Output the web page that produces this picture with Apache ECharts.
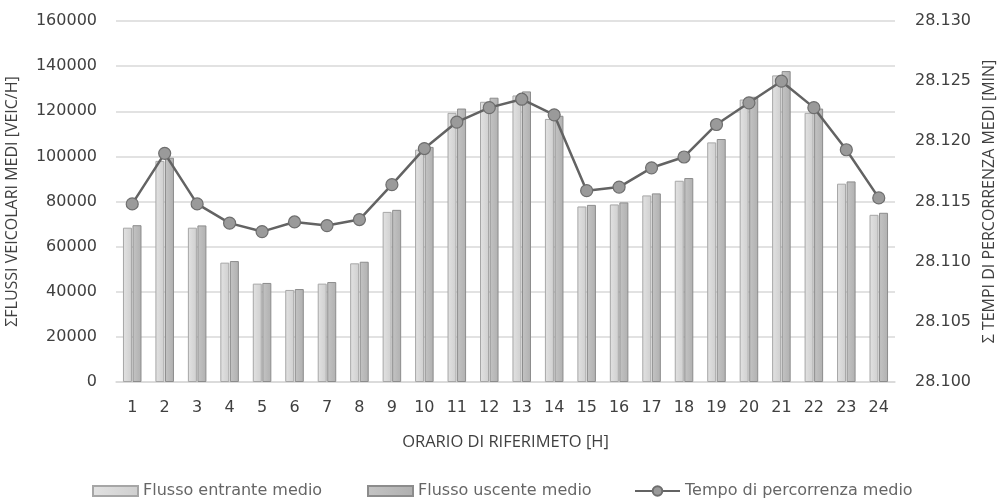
<!DOCTYPE html>
<html>
<head>
<meta charset="utf-8">
<script src="https://cdn.jsdelivr.net/npm/echarts@6/dist/echarts.min.js"></script>
<style>
  html, body { margin: 0; padding: 0; background: #fff; }
  #chart { width: 1000px; height: 500px; }
</style>
</head>
<body>
<div id="chart"></div>
<script>
// Hours of the day (reference time)
const hours = ['1','2','3','4','5','6','7','8','9','10','11','12','13','14','15','16','17','18','19','20','21','22','23','24'];

// Mean incoming flow [veic/h]
const flussoEntrante = [68400, 98000, 68400, 52900, 43600, 40800, 43600, 52600, 75400, 103000, 119300, 124200,
                        127000, 116600, 77800, 78700, 82700, 89200, 106200, 125200, 135900, 119300, 87900, 74100];

// Mean outgoing flow [veic/h]
const flussoUscente = [69500, 99400, 69400, 53600, 43900, 41200, 44300, 53300, 76300, 104200, 121200, 126000,
                       128800, 118000, 78500, 79600, 83600, 90400, 107700, 126400, 137800, 121200, 88900, 75000];

// Mean travel time [min]
const tempoPercorrenza = [28.1148, 28.1190, 28.1148, 28.1132, 28.1125, 28.1133, 28.1130, 28.1135, 28.1164, 28.1194,
                          28.1216, 28.1228, 28.1235, 28.1222, 28.1159, 28.1162, 28.1178, 28.1187, 28.1214, 28.1232,
                          28.1250, 28.1228, 28.1193, 28.1153];

// Axis ticks
const leftTicks = { min: 0, max: 160000, interval: 20000 };
const rightTicks = { min: 28.100, max: 28.130, interval: 0.005 };

const TICK_FONT = '"DejaVu Sans", sans-serif';
const TITLE_FONT = '"Open Sans", "Noto Sans", sans-serif';
const LEGEND_FONT = '"DejaVu Sans", sans-serif';
const TXT = '#404040';

const chart = echarts.init(document.getElementById('chart'), null, { renderer: 'canvas' });

const legendText = { fontFamily: LEGEND_FONT, fontSize: 16, color: '#666666' };

chart.setOption({
  animation: false,
  backgroundColor: '#ffffff',
  grid: { left: 116, right: 105, top: 21, bottom: 118, containLabel: false, outerBoundsMode: 'none' },
  legend: [
    { data: [{ name: 'Flusso entrante medio', icon: 'rect' }], left: 92, top: 483, itemWidth: 45, itemHeight: 10, padding: 0, textStyle: legendText },
    { data: [{ name: 'Flusso uscente medio', icon: 'rect' }], left: 367, top: 483, itemWidth: 45, itemHeight: 10, padding: 0, textStyle: legendText },
    { data: ['Tempo di percorrenza medio'], left: 634, top: 483, itemWidth: 45, itemHeight: 12, padding: 0, textStyle: legendText }
  ],
  xAxis: {
    type: 'category',
    data: hours,
    name: 'ORARIO DI RIFERIMETO [H]',
    nameLocation: 'middle',
    nameGap: 52,
    nameTextStyle: { fontFamily: TITLE_FONT, fontSize: 16.5, color: TXT },
    axisLine: { lineStyle: { color: '#d9d9d9', width: 1.5 } },
    axisTick: { show: false },
    axisLabel: { fontFamily: TICK_FONT, fontSize: 16, color: TXT, margin: 18 }
  },
  yAxis: [
    {
      type: 'value',
      min: leftTicks.min, max: leftTicks.max, interval: leftTicks.interval,
      name: 'ΣFLUSSI VEICOLARI MEDI [VEIC/H]',
      nameLocation: 'middle',
      nameRotate: 90,
      nameGap: 96,
      nameTextStyle: { fontFamily: TITLE_FONT, fontSize: 16, color: TXT },
      axisLine: { show: false },
      axisTick: { show: false },
      axisLabel: { fontFamily: TICK_FONT, fontSize: 16, color: TXT, margin: 19, formatter: v => String(v) },
      splitLine: { lineStyle: { color: '#d9d9d9', width: 1.5 } }
    },
    {
      type: 'value',
      min: rightTicks.min, max: rightTicks.max, interval: rightTicks.interval,
      name: 'Σ TEMPI DI PERCORRENZA MEDI [MIN]',
      nameLocation: 'middle',
      nameRotate: 90,
      nameGap: 86,
      nameTextStyle: { fontFamily: TITLE_FONT, fontSize: 16, color: TXT },
      axisLine: { show: false },
      axisTick: { show: false },
      splitLine: { show: false },
      axisLabel: {
        fontFamily: TICK_FONT, fontSize: 16, color: TXT, margin: 20,
        formatter: v => v.toFixed(3)
      }
    }
  ],
  series: [
    {
      name: 'Flusso entrante medio',
      type: 'bar',
      data: flussoEntrante,
      barWidth: 9,
      barGap: '6%',
      itemStyle: {
        color: new echarts.graphic.LinearGradient(0, 0, 1, 0, [
          { offset: 0, color: '#e2e2e2' }, { offset: 1, color: '#cfcfcf' }
        ]),
        borderColor: '#a6a6a6',
        borderWidth: 1
      }
    },
    {
      name: 'Flusso uscente medio',
      type: 'bar',
      data: flussoUscente,
      barWidth: 9,
      itemStyle: {
        color: new echarts.graphic.LinearGradient(0, 0, 1, 0, [
          { offset: 0, color: '#c4c4c4' }, { offset: 1, color: '#b0b0b0' }
        ]),
        borderColor: '#8c8c8c',
        borderWidth: 1
      }
    },
    {
      name: 'Tempo di percorrenza medio',
      type: 'line',
      yAxisIndex: 1,
      data: tempoPercorrenza,
      symbol: 'circle',
      symbolSize: 12,
      lineStyle: { color: '#636363', width: 2.5 },
      itemStyle: { color: '#9a9a9a', borderColor: '#6e6e6e', borderWidth: 1.2 },
      z: 5
    }
  ]
});
</script>
</body>
</html>
